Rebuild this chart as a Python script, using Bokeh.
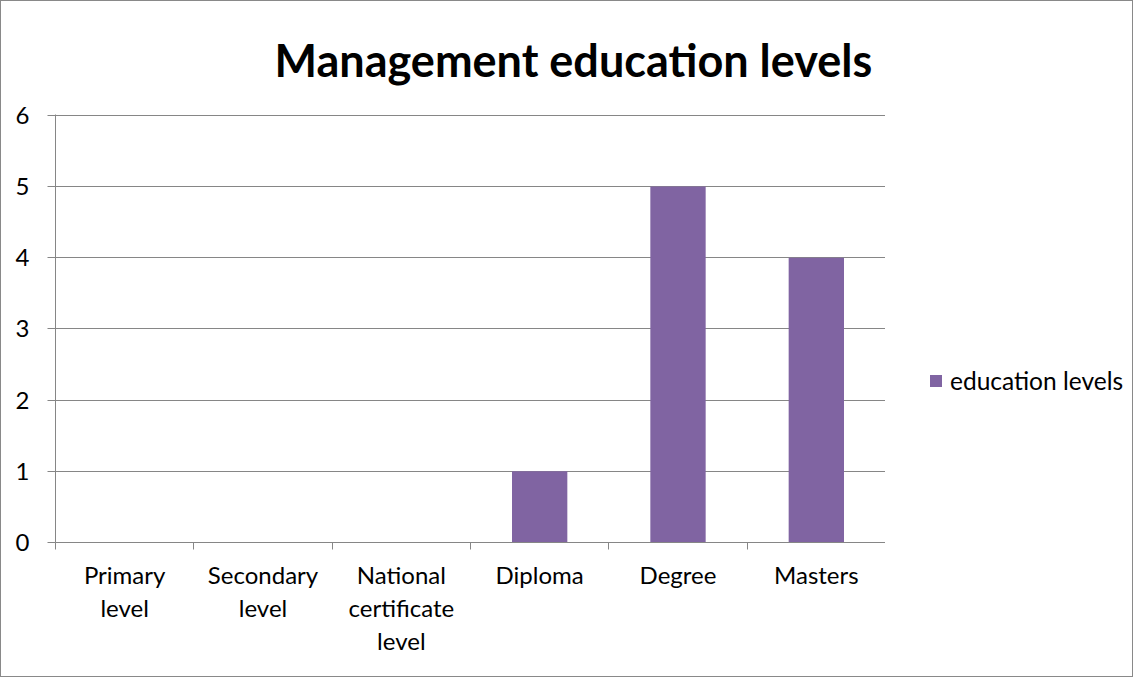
from bokeh.plotting import figure
from bokeh.models import (Range1d, FixedTicker, Title, Legend, LegendItem, LinearAxis)
from bokeh.layouts import row
from bokeh.embed import file_html
from bokeh.resources import INLINE

categories = ["Primary\nlevel", "Secondary\nlevel", "National\ncertificate\nlevel",
              "Diploma", "Degree", "Masters"]
values = [0, 0, 0, 1, 5, 4]
series_name = "education levels"
title_text = "Management education levels"
y_ticks = [0, 1, 2, 3, 4, 5, 6]

FONT = "Lato"
GRAY = "#868686"
PURPLE = "#8064A2"

n = len(categories)
xs = [i + 0.5 for i in range(n)]

p = figure(width=884, height=675, output_backend="svg", toolbar_location=None,
           x_range=Range1d(0, n), y_range=Range1d(0, 6.01),
           min_border_left=54, min_border_right=0, min_border_top=113, min_border_bottom=134,
           x_axis_location=None, y_axis_location=None)
p.outline_line_color = None
p.background_fill_color = "white"
p.border_fill_color = "white"

r = p.vbar(x=xs, top=values, width=0.4, fill_color=PURPLE, line_color=None)

# y axis
yax = LinearAxis(ticker=FixedTicker(ticks=y_ticks))
yax.axis_line_color = GRAY
yax.major_tick_line_color = GRAY
yax.major_tick_out = 8
yax.major_tick_in = 0
yax.minor_tick_line_color = None
yax.major_label_text_font = FONT
yax.major_label_text_font_size = "24px"
yax.major_label_text_color = "black"
yax.major_label_standoff = 18
p.add_layout(yax, "left")

# x axis: labels at category centers, tick marks at category boundaries (minor ticks)
xax = LinearAxis(ticker=FixedTicker(ticks=xs, minor_ticks=list(range(n + 1))))
xax.axis_line_color = GRAY
xax.major_tick_line_color = None
xax.major_tick_out = 0
xax.major_tick_in = 0
xax.minor_tick_line_color = GRAY
xax.minor_tick_out = 7
xax.minor_tick_in = 0
xax.major_label_overrides = {x: c for x, c in zip(xs, categories)}
xax.major_label_text_font = FONT
xax.major_label_text_font_size = "24px"
xax.major_label_text_color = "black"
xax.major_label_text_line_height = 1.14
xax.major_label_standoff = 10
p.add_layout(xax, "below")

p.xgrid.visible = False
p.ygrid.ticker = FixedTicker(ticks=y_ticks)
p.ygrid.grid_line_color = GRAY
p.ygrid.grid_line_width = 1

title = Title(text=title_text, align="left", offset=219, standoff=51,
              vertical_align="top",
              text_font=FONT, text_font_style="bold", text_font_size="45px",
              text_color="black")
p.add_layout(title, "above")

# legend panel (right part of the chart area)
p2 = figure(width=247, height=675, output_backend="svg", toolbar_location=None,
            x_range=Range1d(0, 1), y_range=Range1d(0, 1),
            min_border=0, x_axis_location=None, y_axis_location=None)
p2.outline_line_color = None
p2.background_fill_color = "white"
p2.border_fill_color = "white"
p2.grid.visible = False
# same series; its bars fall outside this panel's ranges, only the legend entry shows
r2 = p2.vbar(x=xs, top=values, width=0.4, fill_color=PURPLE, line_color=None)

legend = Legend(items=[LegendItem(label=series_name, renderers=[r2])],
                location=(43, 147), orientation="vertical")
legend.glyph_width = 15
legend.glyph_height = 15
legend.label_standoff = 7
legend.padding = 0
legend.margin = 0
legend.border_line_color = None
legend.background_fill_alpha = 0
legend.label_text_font = FONT
legend.label_text_font_size = "24.5px"
legend.label_text_color = "black"
p2.add_layout(legend, "center")

layout = row(p, p2)
layout.styles = {"border": "1px solid #898989"}

open("out.html", "w").write(file_html(layout, INLINE))
